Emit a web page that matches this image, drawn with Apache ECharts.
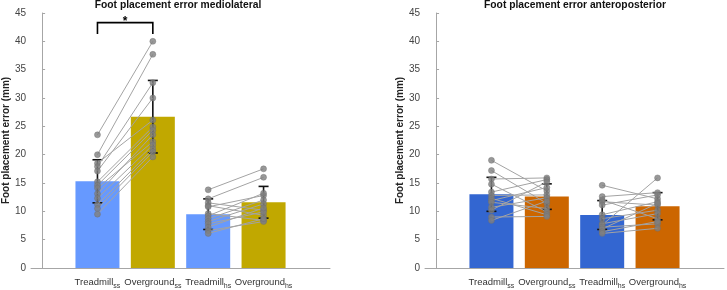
<!DOCTYPE html>
<html>
<head>
<meta charset="utf-8">
<script src="https://cdn.jsdelivr.net/npm/echarts@6/dist/echarts.min.js"></script>
<style>
  html, body { margin: 0; padding: 0; background: #fff; }
  #chart { width: 727px; height: 290px; }
</style>
</head>
<body>
<div id="chart"></div>
<script>
// categories (main text + subscript)
const catMain = ['Treadmill', 'Overground', 'Treadmill', 'Overground'];
const catSub = ['ss', 'ss', 'hs', 'hs'];
const yTicks = [0, 5, 10, 15, 20, 25, 30, 35, 40, 45];

// mediolateral: bar means and SD
const mlMean = [15.3, 26.7, 9.5, 11.6];
const mlSd = [3.8, 6.4, 2.7, 2.8];
// mediolateral: individual subjects (paired by index)
const mlTreadSS = [23.5, 20.0, 18.5, 17.9, 17.1, 15.2, 14.6, 14.1, 13.1, 12.3, 11.2, 10.5, 9.5];
const mlOverSS = [40.0, 37.7, 26.1, 32.7, 30.0, 24.9, 24.3, 22.3, 23.5, 21.7, 21.0, 20.5, 19.6];
const mlTreadHS = [13.8, 12.2, 11.5, 11.0, 10.8, 9.6, 9.2, 8.7, 8.2, 7.8, 7.2, 6.6, 6.1];
const mlOverHS = [17.5, 16.0, 10.2, 9.3, 12.8, 8.4, 13.2, 12.0, 11.3, 9.9, 10.6, 8.2, 8.7];

// anteroposterior: bar means and SD
const apMean = [13.0, 12.6, 9.35, 10.9];
const apSd = [3.0, 2.25, 2.55, 2.4];
const apTreadSS = [19.0, 17.2, 15.7, 14.8, 13.4, 12.8, 12.3, 11.9, 11.6, 10.7, 10.2, 9.0, 8.4];
const apOverSS = [13.6, 11.4, 15.9, 9.9, 15.6, 12.9, 9.4, 14.2, 10.5, 12.4, 15.2, 9.1, 11.8];
const apTreadHS = [14.6, 12.6, 12.0, 11.7, 11.1, 9.4, 8.7, 7.8, 7.6, 7.2, 6.9, 6.4, 6.1];
const apOverHS = [12.2, 13.3, 8.7, 11.1, 12.9, 11.7, 10.2, 9.6, 15.9, 7.8, 11.4, 8.2, 7.0];

// significance bracket: [from, to, height]
const mlSig = [[1, 2, 43.3]];

const mlColors = ['#6699ff', '#c1a800', '#6699ff', '#c1a800'];
const apColors = ['#3366d1', '#cc6600', '#3366d1', '#cc6600'];

const font = 'Liberation Sans, Arial, sans-serif';
const chart = echarts.init(document.getElementById('chart'));

function xAxisFor(idx) {
  return {
    type: 'value', gridIndex: idx, min: -0.2, max: 5.2, interval: 0.2,
    axisLine: { lineStyle: { color: '#a6a6a6', width: 1 } },
    axisTick: { show: false },
    splitLine: { show: false },
    axisLabel: {
      margin: 7,
      formatter: v => {
        const i = Math.round(v);
        if (Math.abs(v - i) > 1e-6 || i < 1 || i > 4) return '';
        return '{m|' + catMain[i - 1] + '}{s|' + catSub[i - 1] + '}';
      },
      rich: {
        m: { fontSize: 9.5, color: '#333', fontFamily: font },
        s: { fontSize: 7, color: '#333', fontFamily: font, padding: [8, 0, 0, 0] }
      }
    }
  };
}

function yAxisFor(idx) {
  return {
    type: 'value', gridIndex: idx, min: 0, max: 45, interval: 5,
    name: 'Foot placement error (mm)', nameLocation: 'middle', nameGap: 19,
    nameTextStyle: { fontWeight: 'bold', fontSize: 10, color: '#222', fontFamily: font },
    axisLine: { show: true, lineStyle: { color: '#a6a6a6' } },
    axisTick: { show: true, inside: true, length: 3, lineStyle: { color: '#a6a6a6' } },
    splitLine: { show: false },
    axisLabel: { margin: 5, fontSize: 10, color: '#444', fontFamily: font,
      formatter: v => yTicks.includes(v) ? String(v) : '' }
  };
}

function barSeries(idx, mean, colors) {
  return {
    type: 'bar', xAxisIndex: idx, yAxisIndex: idx, barWidth: 44, z: 1,
    data: mean.map((m, i) => ({ value: [i + 1, m], itemStyle: { color: colors[i] } })),
    silent: true
  };
}

function errSeries(idx, mean, sd) {
  return {
    type: 'custom', xAxisIndex: idx, yAxisIndex: idx, z: 3, silent: true,
    data: mean.map((m, i) => [i + 1, m - sd[i], m + sd[i]]),
    renderItem: (params, api) => {
      const top = api.coord([api.value(0), api.value(2)]);
      const bot = api.coord([api.value(0), api.value(1)]);
      const st = { stroke: '#111', lineWidth: 1.6 };
      return {
        type: 'group', children: [
          { type: 'line', shape: { x1: top[0], y1: top[1], x2: bot[0], y2: bot[1] }, style: st },
          { type: 'line', shape: { x1: top[0] - 5, y1: top[1], x2: top[0] + 5, y2: top[1] }, style: st },
          { type: 'line', shape: { x1: bot[0] - 5, y1: bot[1], x2: bot[0] + 5, y2: bot[1] }, style: st }
        ]
      };
    }
  };
}

function pairSeries(idx, a, b, xa) {
  const out = [];
  a.forEach((v, i) => {
    out.push({
      type: 'line', xAxisIndex: idx, yAxisIndex: idx, z: 4, silent: true,
      symbol: 'none', lineStyle: { color: '#a3a3a3', width: 1 },
      data: [[xa, v], [xa + 1, b[i]]]
    });
  });
  out.push({
    type: 'scatter', xAxisIndex: idx, yAxisIndex: idx, z: 5, silent: true,
    symbolSize: 6, itemStyle: { color: '#7f7f7f', borderColor: '#6e6e6e', borderWidth: 0.5 },
    data: a.map(v => [xa, v]).concat(b.map(v => [xa + 1, v]))
  });
  return out;
}

const sigSeries = {
  type: 'custom', xAxisIndex: 0, yAxisIndex: 0, z: 6, silent: true,
  data: mlSig,
  renderItem: (params, api) => {
    const p1 = api.coord([api.value(0), api.value(2)]);
    const p2 = api.coord([api.value(1), api.value(2)]);
    const drop = api.coord([api.value(0), api.value(2) - 2])[1];
    return {
      type: 'group', children: [
        { type: 'polyline', shape: { points: [[p1[0], drop], p1, p2, [p2[0], drop]] },
          style: { stroke: '#000', lineWidth: 1.6, fill: null } },
        { type: 'text', x: (p1[0] + p2[0]) / 2, y: p1[1] - 1,
          style: { text: '*', fontSize: 12, fontWeight: 'bold', fontFamily: font,
            fill: '#000', align: 'center', verticalAlign: 'middle' } }
      ]
    };
  }
};

const option = {
  animation: false,
  textStyle: { fontFamily: font },
  title: [
    { text: 'Foot placement error mediolateral', left: 178, top: 0, padding: 0, textAlign: 'center',
      textStyle: { fontSize: 10.3, fontWeight: 'bold', color: '#111', fontFamily: font } },
    { text: 'Foot placement error anteroposterior', left: 575, top: 0, padding: 0, textAlign: 'center',
      textStyle: { fontSize: 10.3, fontWeight: 'bold', color: '#111', fontFamily: font } }
  ],
  grid: [
    { left: 29, top: 13, width: 301, bottom: 20.5 },
    { left: 425, top: 13, width: 301, bottom: 20.5 }
  ],
  xAxis: [xAxisFor(0), xAxisFor(1)],
  yAxis: [yAxisFor(0), yAxisFor(1)],
  series: [
    barSeries(0, mlMean, mlColors),
    barSeries(1, apMean, apColors),
    errSeries(0, mlMean, mlSd),
    errSeries(1, apMean, apSd),
    ...pairSeries(0, mlTreadSS, mlOverSS, 1),
    ...pairSeries(0, mlTreadHS, mlOverHS, 3),
    ...pairSeries(1, apTreadSS, apOverSS, 1),
    ...pairSeries(1, apTreadHS, apOverHS, 3),
    sigSeries
  ]
};

chart.setOption(option);
</script>
</body>
</html>
